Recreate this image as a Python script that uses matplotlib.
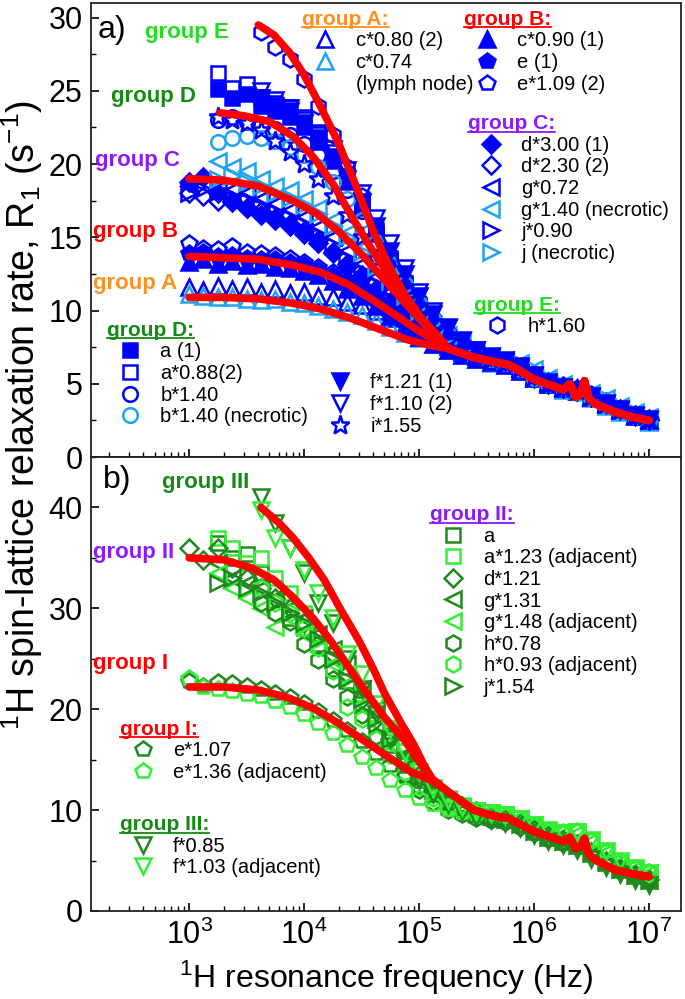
import matplotlib
matplotlib.use("Agg")
import matplotlib.pyplot as plt
from matplotlib.lines import Line2D
from matplotlib.ticker import MultipleLocator

plt.rcParams['font.family'] = ['Liberation Sans', 'DejaVu Sans']
plt.rcParams['mathtext.fontset'] = 'custom'
plt.rcParams['mathtext.rm'] = 'Liberation Sans'
plt.rcParams['mathtext.it'] = 'Liberation Sans:italic'
plt.rcParams['mathtext.bf'] = 'Liberation Sans:bold'
plt.rcParams['mathtext.default'] = 'regular'

# measurement frequencies (Hz); shorter series use the last len(values) entries
FREQ = [1.00e3, 1.33e3, 1.78e3, 2.37e3, 3.16e3, 4.22e3, 5.62e3, 7.50e3,
        1.00e4, 1.33e4, 1.78e4, 2.37e4, 3.16e4, 4.22e4, 5.62e4, 7.50e4,
        1.00e5, 1.33e5, 1.78e5, 2.37e5, 3.16e5, 4.22e5, 5.62e5, 7.50e5,
        1.00e6, 1.33e6, 1.78e6, 2.37e6, 3.16e6, 4.22e6, 5.62e6, 7.50e6, 1.00e7]

# ---- panel a data ----
C080 = [11.6, 11.4, 11.7, 11.5, 11.6, 11.3, 11.5, 11.2, 11.3, 11.0, 10.9, 10.6, 10.4, 10.0, 9.5, 9.0, 8.6,
        8.1, 7.6, 7.2, 6.9, 6.7, 6.5, 6.1, 5.5, 5.1, 4.8, 4.7, 4.2, 3.7, 3.3, 2.9, 2.6]
C074 = [11.1, 11.0, 10.9, 10.9, 10.8, 10.7, 10.8, 10.6, 10.5, 10.3, 10.1, 9.9, 9.7, 9.3, 8.9, 8.5, 8.1,
        7.7, 7.3, 7.0, 6.7, 6.4, 6.3, 5.9, 5.4, 5.0, 4.6, 4.5, 4.0, 3.5, 3.1, 2.8, 2.4]
C090 = [13.3, 13.5, 13.2, 13.4, 13.1, 13.2, 13.0, 12.9, 12.7, 12.4, 12.0, 11.5, 11.0, 10.3, 9.6, 8.9, 8.2,
        7.7, 7.3, 7.0, 6.7, 6.5, 6.3, 5.9, 5.4, 5.0, 4.7, 4.5, 4.1, 3.6, 3.2, 2.8, 2.5]
E1 = [13.9, 14.0, 13.7, 13.8, 13.6, 13.5, 13.5, 13.3, 13.1, 12.8, 12.4, 12.0, 11.4, 10.7, 10.0, 9.2, 8.5,
      7.9, 7.4, 7.0, 6.8, 6.6, 6.4, 6.0, 5.5, 5.1, 4.8, 4.6, 4.2, 3.7, 3.2, 2.8, 2.5]
E109 = [14.6, 14.3, 14.2, 14.4, 14.0, 13.9, 13.8, 13.6, 13.3, 13.0, 12.6, 12.1, 11.6, 10.9, 10.1, 9.3, 8.6,
        8.0, 7.5, 7.1, 6.9, 6.6, 6.4, 6.0, 5.5, 5.1, 4.9, 4.7, 4.3, 3.8, 3.3, 2.9, 2.6]
D300 = [18.8, 19.1, 18.0, 17.5, 17.0, 16.5, 16.2, 15.8, 15.2, 14.6, 13.9, 13.0, 12.2, 11.3, 10.5, 9.7, 8.9,
        8.2, 7.6, 7.2, 6.9, 6.6, 6.4, 6.0, 5.4, 5.0, 4.7, 4.5, 4.1, 3.6, 3.2, 2.8, 2.5]
D230 = [18.0, 17.8, 17.5, 17.4, 17.0, 16.8, 16.3, 15.9, 15.4, 14.8, 14.0, 13.2, 12.4, 11.5, 10.6, 9.8, 9.0,
        8.3, 7.7, 7.3, 7.0, 6.7, 6.5, 6.1, 5.5, 5.1, 4.8, 4.6, 4.2, 3.7, 3.3, 2.9, 2.6]
G072 = [18.5, 18.6, 18.3, 18.2, 18.0, 17.6, 17.3, 16.9, 16.4, 15.7, 15.0, 14.1, 13.2, 12.3, 11.3, 10.3, 9.4,
        8.6, 7.9, 7.4, 7.0, 6.7, 6.5, 6.1, 5.5, 5.0, 4.7, 4.5, 4.1, 3.6, 3.2, 2.8, 2.5]
G140N = [20.2, 19.8, 19.5, 19.0, 18.5, 18.2, 17.6, 17.0, 16.2, 15.3, 14.3, 13.2, 12.2, 11.1, 10.0, 9.1,
         8.3, 7.7, 7.2, 6.9, 6.6, 6.4, 6.0, 5.4, 5.0, 4.7, 4.4, 4.0, 3.5, 3.1, 2.7]
J090 = [18.0, 18.3, 18.1, 17.8, 17.6, 17.2, 16.8, 16.4, 15.9, 15.2, 14.5, 13.6, 12.7, 11.8, 10.8, 9.9, 9.1,
        8.4, 7.8, 7.3, 7.0, 6.7, 6.5, 6.1, 5.5, 5.1, 4.8, 4.6, 4.2, 3.7, 3.3, 2.9, 2.5]
JNEC = [19.0, 19.2, 18.8, 18.5, 18.0, 17.7, 17.2, 16.6, 15.8, 15.0, 14.0, 13.0, 12.0, 11.0, 10.0, 9.1,
        8.3, 7.7, 7.2, 6.9, 6.6, 6.4, 6.0, 5.4, 5.0, 4.6, 4.4, 4.0, 3.5, 3.1, 2.7]
H160 = [29.0, 28.0, 27.2, 25.8, 24.0, 22.0, 19.8, 17.8, 15.6, 13.7, 12.0, 10.5, 9.2, 8.3,
        7.6, 7.0, 6.7, 6.5, 6.1, 5.5, 5.1, 4.8, 4.6, 4.2, 3.7, 3.3, 2.9, 2.6]
A1 = [25.1, 24.5, 24.8, 24.0, 23.6, 23.2, 22.5, 21.5, 20.2, 18.8, 17.0, 15.2, 13.4, 11.7, 10.2, 9.0, 8.1,
      7.5, 7.1, 6.8, 6.6, 6.2, 5.6, 5.1, 4.8, 4.6, 4.2, 3.7, 3.3, 2.9, 2.6]
A088 = [26.2, 25.2, 25.5, 24.6, 24.2, 23.9, 23.2, 22.2, 20.8, 19.2, 17.4, 15.5, 13.6, 11.9, 10.4, 9.1, 8.2,
        7.4, 7.0, 6.7, 6.5, 6.1, 5.6, 5.1, 4.8, 4.6, 4.2, 3.7, 3.3, 2.9, 2.6]
B140 = [23.0, 23.2, 22.9, 22.7, 22.4, 22.0, 21.4, 20.6, 19.5, 18.2, 16.8, 15.2, 13.6, 12.1, 10.7, 9.5, 8.5,
        7.8, 7.2, 6.8, 6.5, 6.2, 5.6, 5.1, 4.8, 4.6, 4.2, 3.7, 3.3, 2.9, 2.6]
B140N = [21.5, 21.8, 21.9, 21.8, 21.6, 21.2, 20.6, 19.8, 18.8, 17.6, 16.2, 14.7, 13.2, 11.8, 10.5, 9.4, 8.4,
         7.6, 7.1, 6.7, 6.4, 6.0, 5.4, 5.0, 4.7, 4.4, 4.0, 3.5, 3.1, 2.8, 2.5]
I155 = [23.2, 23.0, 22.8, 22.3, 21.6, 20.8, 20.0, 19.0, 17.8, 16.5, 15.0, 13.5, 12.0, 10.7, 9.6, 8.6, 7.9,
        7.4, 7.0, 6.7, 6.4, 6.1, 5.5, 5.0, 4.7, 4.5, 4.1, 3.6, 3.2, 2.8, 2.5]
F121 = [24.5, 24.0, 23.6, 22.8, 21.8, 20.5, 19.0, 17.4, 15.8, 14.1, 12.5, 11.0, 9.8, 8.8,
        7.9, 7.3, 6.8, 6.5, 6.1, 5.5, 5.0, 4.7, 4.5, 4.1, 3.6, 3.2, 2.8, 2.5]
F110 = [25.0, 24.4, 23.8, 23.0, 22.0, 21.0, 19.6, 18.0, 16.3, 14.6, 12.9, 11.3, 10.0, 8.9,
        8.0, 7.3, 6.9, 6.6, 6.2, 5.6, 5.1, 4.8, 4.6, 4.2, 3.7, 3.3, 2.9, 2.6]

# ---- panel b data ----
A_II = [36.5, 35.0, 35.4, 33.5, 32.0, 29.0, 28.0, 26.5, 24.0, 22.8, 20.5, 18.5, 16.5, 14.5, 13.0, 11.8, 10.8,
        10.2, 9.6, 9.3, 9.0, 8.6, 7.8, 7.2, 6.8, 6.4, 5.6, 4.8, 4.1, 3.5, 3.0]
A123 = [37.0, 36.0, 34.5, 35.0, 33.0, 31.5, 29.5, 27.5, 25.5, 23.5, 21.5, 19.5, 17.2, 15.2, 13.5, 12.2, 11.2,
        10.5, 10.0, 9.8, 9.6, 9.2, 8.6, 8.0, 7.8, 7.9, 7.0, 5.8, 4.8, 4.2, 3.8]
D121 = [36.0, 34.8, 36.0, 34.0, 33.0, 32.0, 31.0, 30.0, 28.5, 27.5, 25.5, 23.5, 21.0, 19.0, 17.0, 15.0, 13.5,
        12.2, 11.2, 10.4, 9.9, 9.6, 9.3, 8.8, 8.0, 7.4, 7.0, 6.6, 5.8, 5.0, 4.3, 3.7, 3.2]
G131 = [34.5, 33.0, 32.5, 32.0, 31.0, 30.0, 29.0, 27.5, 26.0, 24.5, 22.0, 20.0, 17.8, 15.5, 13.5, 12.0, 11.0,
        10.3, 9.8, 9.5, 9.2, 8.7, 8.0, 7.4, 7.0, 6.6, 5.7, 4.9, 4.2, 3.6, 3.1]
G148 = [33.5, 32.0, 31.0, 30.0, 28.1, 29.0, 27.5, 26.0, 24.5, 22.5, 20.5, 18.5, 16.5, 14.5, 13.0, 11.8, 10.8,
        10.2, 9.9, 9.7, 9.5, 9.1, 8.5, 7.9, 7.6, 7.7, 6.9, 5.8, 4.9, 4.2, 3.8]
H078 = [30.5, 29.5, 28.6, 26.5, 24.9, 23.0, 21.2, 19.4, 17.3, 15.5, 13.5, 12.0, 10.8, 10.0,
        9.6, 9.2, 9.0, 8.8, 8.3, 7.7, 7.1, 6.7, 6.3, 5.6, 4.8, 4.1, 3.5, 3.0]
H093 = [32.0, 30.5, 29.5, 28.0, 26.1, 23.8, 20.2, 19.0, 17.0, 15.5, 13.8, 12.3, 11.2, 10.4,
        10.0, 9.8, 9.6, 9.3, 8.9, 8.3, 7.8, 7.6, 7.8, 6.9, 5.8, 4.9, 4.3, 3.9]
J154 = [32.5, 33.0, 32.0, 31.5, 30.5, 29.5, 28.5, 27.0, 25.0, 23.0, 21.0, 19.0, 17.0, 15.0, 13.3, 12.0, 11.0,
        10.3, 9.7, 9.4, 9.1, 8.6, 7.9, 7.3, 6.9, 6.5, 5.7, 4.9, 4.2, 3.6, 3.1]
E107 = [22.8, 22.3, 22.7, 22.6, 22.3, 22.0, 21.6, 21.2, 20.6, 19.8, 18.9, 17.9, 16.8, 15.7, 14.5, 13.4, 12.4,
        11.5, 10.7, 10.2, 9.8, 9.5, 9.2, 8.8, 8.1, 7.5, 7.1, 6.7, 5.8, 5.0, 4.3, 3.7, 3.2]
E136 = [23.1, 22.2, 22.0, 21.8, 21.5, 21.3, 20.8, 20.2, 19.5, 18.6, 17.6, 16.5, 15.3, 14.2, 13.0, 12.0, 11.2,
        10.6, 10.1, 9.8, 9.7, 9.6, 9.4, 9.0, 8.5, 8.0, 7.8, 7.9, 7.0, 5.9, 5.0, 4.3, 3.9]
F085 = [41.0, 38.5, 36.0, 33.5, 30.5, 28.5, 25.0, 22.0, 19.5, 17.0, 14.8, 13.0, 11.6, 10.6,
        9.9, 9.3, 9.0, 8.7, 8.2, 7.5, 6.9, 6.5, 6.0, 5.2, 4.4, 3.7, 3.1, 2.6]
F103 = [39.7, 37.0, 36.0, 33.8, 31.5, 29.0, 25.5, 23.5, 20.5, 18.0, 15.8, 13.8, 12.2, 11.0,
        10.3, 9.9, 9.7, 9.5, 9.1, 8.5, 8.0, 7.7, 7.8, 7.0, 5.9, 5.0, 4.3, 3.8]

# ---- fitted curves ----
TAIL_F = [1.8e5, 3.0e5, 4.5e5, 6.0e5, 7.5e5, 1.0e6, 1.4e6, 1.8e6, 2.05e6, 2.3e6, 2.55e6, 2.75e6,
          3.0e6, 3.5e6, 5.0e6, 7.0e6, 1.0e7]
TAIL_A = [7.4, 6.8, 6.5, 6.3, 5.9, 5.3, 4.9, 4.6, 5.0, 4.1, 4.3, 5.2, 4.0, 3.6, 3.1, 2.75, 2.5]
TAIL_B = [11.8, 10.0, 9.4, 9.2, 8.6, 7.9, 7.3, 6.9, 7.3, 6.2, 6.4, 7.2, 5.6, 5.0, 4.1, 3.7, 3.4]

FIT_A_F = [1e3, 2e3, 4e3, 8e3, 1.4e4, 2.5e4, 5e4, 8e4, 1.3e5]
FIT_A_R = [10.9, 10.9, 10.8, 10.5, 10.1, 9.5, 8.6, 8.0, 7.6]
FIT_B_F = [1e3, 2e3, 4e3, 8e3, 1.4e4, 2.4e4, 4e4, 6.5e4, 1e5, 1.4e5]
FIT_B_R = [13.7, 13.6, 13.5, 13.1, 12.6, 11.8, 10.7, 9.6, 8.6, 7.9]
FIT_C_F = [1e3, 2e3, 4e3, 8e3, 1.3e4, 2e4, 3.2e4, 5e4, 8e4, 1.1e5, 1.4e5]
FIT_C_R = [19.0, 18.9, 18.5, 17.5, 16.6, 15.4, 13.8, 12.1, 10.3, 9.1, 8.2]
FIT_D_F = [1.85e3, 3e3, 5e3, 8e3, 1.2e4, 1.8e4, 2.7e4, 4e4, 6e4, 9e4, 1.2e5, 1.5e5]
FIT_D_R = [23.5, 23.3, 22.9, 21.9, 20.5, 18.6, 16.2, 14.0, 12.0, 10.0, 8.9, 8.1]
FIT_E_F = [4e3, 5.5e3, 7.5e3, 1e4, 1.4e4, 2e4, 2.8e4, 4e4, 5.5e4, 7.5e4, 1e5, 1.3e5, 1.6e5]
FIT_E_R = [29.5, 28.8, 27.6, 26.1, 23.9, 21.4, 18.6, 15.4, 13.0, 11.1, 9.7, 8.7, 7.9]

FIT_I_F = [1e3, 2e3, 4e3, 7e3, 1.2e4, 2e4, 3.5e4, 5.5e4, 8.5e4, 1.3e5]
FIT_I_R = [22.2, 22.2, 21.9, 21.2, 20.1, 18.6, 16.7, 15.2, 13.8, 12.9]
FIT_II_F = [1e3, 2e3, 3.5e3, 5.5e3, 8e3, 1.2e4, 1.7e4, 2.5e4, 3.5e4, 5e4, 7.5e4, 1e5, 1.3e5]
FIT_II_R = [35.0, 34.8, 34.0, 32.8, 31.1, 29.0, 26.8, 24.0, 21.6, 19.2, 16.9, 14.8, 13.1]
FIT_III_F = [4.2e3, 6e3, 8e3, 1.1e4, 1.5e4, 2.1e4, 3e4, 4e4, 5e4, 7e4, 9e4, 1.1e5, 1.3e5]
FIT_III_R = [40.0, 38.5, 37.0, 35.0, 32.8, 29.8, 26.8, 24.0, 21.6, 18.6, 16.5, 14.5, 13.1]

BLUE = '#0000FF'
LBLUE = '#1FA2F2'
DGREEN = '#1E8A1E'
LGREEN = '#33EE33'
RED = '#FF0000'
ORANGE = '#FF9020'
PURPLE = '#8C1AFF'
EGREEN = '#22DD22'
TGREEN = '#138A13'

SERIES_A = [
    ("c*0.80 (2)", C080, '^', BLUE, False),
    ("c*0.74", C074, '^', LBLUE, False),
    ("c*0.90 (1)", C090, '^', BLUE, True),
    ("e (1)", E1, 'p', BLUE, True),
    ("e*1.09 (2)", E109, 'p', BLUE, False),
    ("d*3.00 (1)", D300, 'D', BLUE, True),
    ("d*2.30 (2)", D230, 'D', BLUE, False),
    ("g*0.72", G072, '<', BLUE, False),
    ("g*1.40 (necrotic)", G140N, '<', LBLUE, False),
    ("j*0.90", J090, '>', BLUE, False),
    ("j (necrotic)", JNEC, '>', LBLUE, False),
    ("h*1.60", H160, 'h', BLUE, False),
    ("a (1)", A1, 's', BLUE, True),
    ("a*0.88(2)", A088, 's', BLUE, False),
    ("b*1.40", B140, 'o', BLUE, False),
    ("b*1.40 (necrotic)", B140N, 'o', LBLUE, False),
    ("f*1.21 (1)", F121, 'v', BLUE, True),
    ("f*1.10 (2)", F110, 'v', BLUE, False),
    ("i*1.55", I155, '*', BLUE, False),
]
SERIES_B = [
    ("a", A_II, 's', DGREEN, False),
    ("a*1.23 (adjacent)", A123, 's', LGREEN, False),
    ("d*1.21", D121, 'D', DGREEN, False),
    ("g*1.31", G131, '<', DGREEN, False),
    ("g*1.48 (adjacent)", G148, '<', LGREEN, False),
    ("h*0.78", H078, 'h', DGREEN, False),
    ("h*0.93 (adjacent)", H093, 'h', LGREEN, False),
    ("j*1.54", J154, '>', DGREEN, False),
    ("e*1.07", E107, 'p', DGREEN, False),
    ("e*1.36 (adjacent)", E136, 'p', LGREEN, False),
    ("f*0.85", F085, 'v', DGREEN, False),
    ("f*1.03 (adjacent)", F103, 'v', LGREEN, False),
]
MSIZE = {'^': 11, 'v': 11, '<': 11, '>': 11, 's': 10, 'o': 10.5, 'D': 9, 'p': 11.5, 'h': 11.5, '*': 14}


def draw_series(ax, series):
    handles = {}
    for label, vals, m, col, filled in series:
        f = FREQ[len(FREQ) - len(vals):]
        ln, = ax.plot(f, vals, ls='none', marker=m, ms=MSIZE[m], mew=1.8, mec=col,
                      mfc=col if filled else 'none', zorder=3)
        handles[label] = ln
    return handles


def draw_fit(ax, f, r, tail_f, tail_r):
    ax.plot(list(f) + list(tail_f), list(r) + list(tail_r), color=RED, lw=5.5,
            solid_capstyle='round', zorder=5)


titles = []


def group_legend(ax, handles, title, color, labels, anchor):
    hs = [handles[l] if l in handles else Line2D([], [], ls='none') for l in labels]
    leg = ax.legend(hs, labels, loc='upper left', bbox_to_anchor=anchor, frameon=False,
                    title=title, title_fontsize=15, fontsize=14.5, alignment='left',
                    borderpad=0, borderaxespad=0, handlelength=2.3, handletextpad=0.35,
                    labelspacing=0.13, numpoints=1)
    if title:
        leg.get_title().set_color(color)
        leg.get_title().set_fontweight('bold')
        titles.append(leg.get_title())
    ax.add_artist(leg)
    return leg


fig = plt.figure(figsize=(6.85, 9.99), dpi=100)
ax_a = fig.add_axes([0.1328, 0.5425, 0.8613, 0.4545])
ax_b = fig.add_axes([0.1328, 0.0881, 0.8613, 0.4545])

ha = draw_series(ax_a, SERIES_A)
for f, r in [(FIT_A_F, FIT_A_R), (FIT_B_F, FIT_B_R), (FIT_C_F, FIT_C_R), (FIT_D_F, FIT_D_R), (FIT_E_F, FIT_E_R)]:
    draw_fit(ax_a, f, r, TAIL_F, TAIL_A)

hb = draw_series(ax_b, SERIES_B)
for f, r in [(FIT_I_F, FIT_I_R), (FIT_II_F, FIT_II_R), (FIT_III_F, FIT_III_R)]:
    draw_fit(ax_b, f, r, TAIL_F, TAIL_B)

for ax in (ax_a, ax_b):
    ax.set_xscale('log')
    ax.set_xlim(140, 1.9e7)
    ax.tick_params(which='both', direction='in', top=False, right=False, labelsize=22, pad=6)
    ax.tick_params(which='major', length=6, width=1.2)
    ax.tick_params(which='minor', length=3.5, width=1.0)
    for s in ax.spines.values():
        s.set_linewidth(1.3)
        s.set_color('#222222')

ax_a.set_ylim(0, 31)
ax_a.yaxis.set_major_locator(MultipleLocator(5))
ax_a.yaxis.set_minor_locator(MultipleLocator(2.5))
ax_a.tick_params(labelbottom=False)
ax_b.set_ylim(0, 45)
ax_b.yaxis.set_major_locator(MultipleLocator(10))
ax_b.yaxis.set_minor_locator(MultipleLocator(5))
ax_b.set_xlabel(r'$^{1}$H resonance frequency (Hz)', fontsize=23, labelpad=6)
fig.text(0.032, 0.585, r'$^{1}$H spin-lattice relaxation rate, R$_{1}$ (s$^{-1}$)',
         rotation=90, fontsize=27, ha='center', va='center')

# panel a annotations
ax_a.text(0.012, 0.94, 'a)', transform=ax_a.transAxes, fontsize=23, va='center')
for txt, col, x, y in [('group E', EGREEN, 0.092, 0.936), ('group D', TGREEN, 0.034, 0.793),
                       ('group C', PURPLE, 0.007, 0.654), ('group B', RED, 0.003, 0.496),
                       ('group A', ORANGE, 0.003, 0.383)]:
    ax_a.text(x, y, txt, color=col, fontsize=16, fontweight='bold', transform=ax_a.transAxes, va='center')

group_legend(ax_a, ha, 'group A:', ORANGE, ["c*0.80 (2)", "c*0.74", "(lymph node)"], (0.358, 0.985))
group_legend(ax_a, ha, 'group B:', RED, ["c*0.90 (1)", "e (1)", "e*1.09 (2)"], (0.632, 0.985))
group_legend(ax_a, ha, 'group C:', PURPLE, ["d*3.00 (1)", "d*2.30 (2)", "g*0.72", "g*1.40 (necrotic)",
                                            "j*0.90", "j (necrotic)"], (0.639, 0.755))
group_legend(ax_a, ha, 'group E:', EGREEN, ["h*1.60"], (0.649, 0.355))
group_legend(ax_a, ha, 'group D:', TGREEN, ["a (1)", "a*0.88(2)", "b*1.40", "b*1.40 (necrotic)"], (0.027, 0.300))
group_legend(ax_a, ha, None, None, ["f*1.21 (1)", "f*1.10 (2)", "i*1.55"], (0.383, 0.184))
ax_a.legend_ = None  # every legend is already an added artist

# panel b annotations
ax_b.text(0.020, 0.949, 'b)', transform=ax_b.transAxes, fontsize=23, va='center')
for txt, col, x, y in [('group III', TGREEN, 0.120, 0.943), ('group II', PURPLE, 0.003, 0.789),
                       ('group I', RED, 0.003, 0.546)]:
    ax_b.text(x, y, txt, color=col, fontsize=16, fontweight='bold', transform=ax_b.transAxes, va='center')

group_legend(ax_b, hb, 'group II:', PURPLE, ["a", "a*1.23 (adjacent)", "d*1.21", "g*1.31", "g*1.48 (adjacent)",
                                             "h*0.78", "h*0.93 (adjacent)", "j*1.54"], (0.575, 0.894))
group_legend(ax_b, hb, 'group I:', RED, ["e*1.07", "e*1.36 (adjacent)"], (0.049, 0.421))
group_legend(ax_b, hb, 'group III:', TGREEN, ["f*0.85", "f*1.03 (adjacent)"], (0.049, 0.211))
ax_b.legend_ = None

# underline the legend titles
fig.canvas.draw()
inv = fig.transFigure.inverted()
for t in titles:
    bb = t.get_window_extent()
    (x0, y0), (x1, _) = inv.transform([[bb.x0, bb.y0 + 1.5], [bb.x1, bb.y0]])
    fig.add_artist(Line2D([x0, x1], [y0, y0], color=t.get_color(), lw=1.3))

fig.savefig('out.png', dpi=100)
